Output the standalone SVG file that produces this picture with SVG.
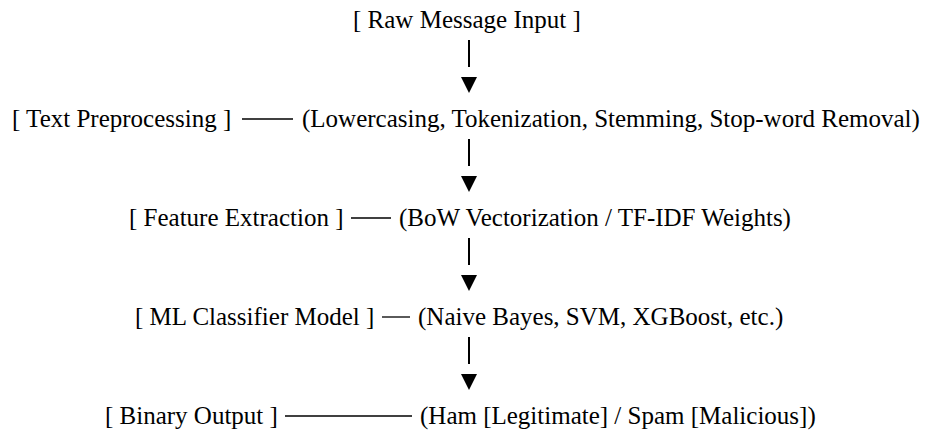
<svg xmlns="http://www.w3.org/2000/svg" width="925" height="432" viewBox="0 0 925 432">
<style>
text{font-family:"Liberation Serif","Times New Roman",serif;font-size:25px;fill:#000}
.bar{stroke:#000;stroke-width:2;fill:none}
.dash{stroke:#000;stroke-width:1.3;fill:none}
.tri{fill:#000}
</style>
<rect width="925" height="432" fill="#fff"/>
<g id="connectors">
<line class="bar" x1="469" y1="40" x2="469" y2="67"/>
<polygon class="tri" points="461,77 477,77 469,93"/>
<line class="bar" x1="469" y1="139" x2="469" y2="166"/>
<polygon class="tri" points="461,176 477,176 469,192"/>
<line class="bar" x1="469" y1="238" x2="469" y2="265"/>
<polygon class="tri" points="461,275 477,275 469,291"/>
<line class="bar" x1="469" y1="337" x2="469" y2="364"/>
<polygon class="tri" points="461,374 477,374 469,390"/>
<line class="dash" x1="242" y1="119" x2="293" y2="119"/>
<line class="dash" x1="351" y1="218" x2="391" y2="218"/>
<line class="dash" x1="382" y1="317" x2="410" y2="317"/>
<line class="dash" x1="285" y1="416" x2="412" y2="416"/>
</g>
<g id="raw-input"><text x="353" y="28">[ Raw Message Input ]</text></g>
<g id="text-preprocessing"><text x="12" y="127">[ Text Preprocessing ]</text></g>
<g id="preprocessing-note"><text x="302" y="127">(Lowercasing, Tokenization, Stemming, Stop-word Removal)</text></g>
<g id="feature-extraction"><text x="129" y="226">[ Feature Extraction ]</text></g>
<g id="feature-note"><text x="399" y="226">(BoW Vectorization / TF-IDF Weights)</text></g>
<g id="ml-classifier"><text x="135" y="325">[ ML Classifier Model ]</text></g>
<g id="classifier-note"><text x="418" y="325">(Naive Bayes, SVM, XGBoost, etc.)</text></g>
<g id="binary-output"><text x="105" y="424">[ Binary Output ]</text></g>
<g id="output-note"><text x="420" y="424">(Ham [Legitimate] / Spam [Malicious])</text></g>
</svg>
